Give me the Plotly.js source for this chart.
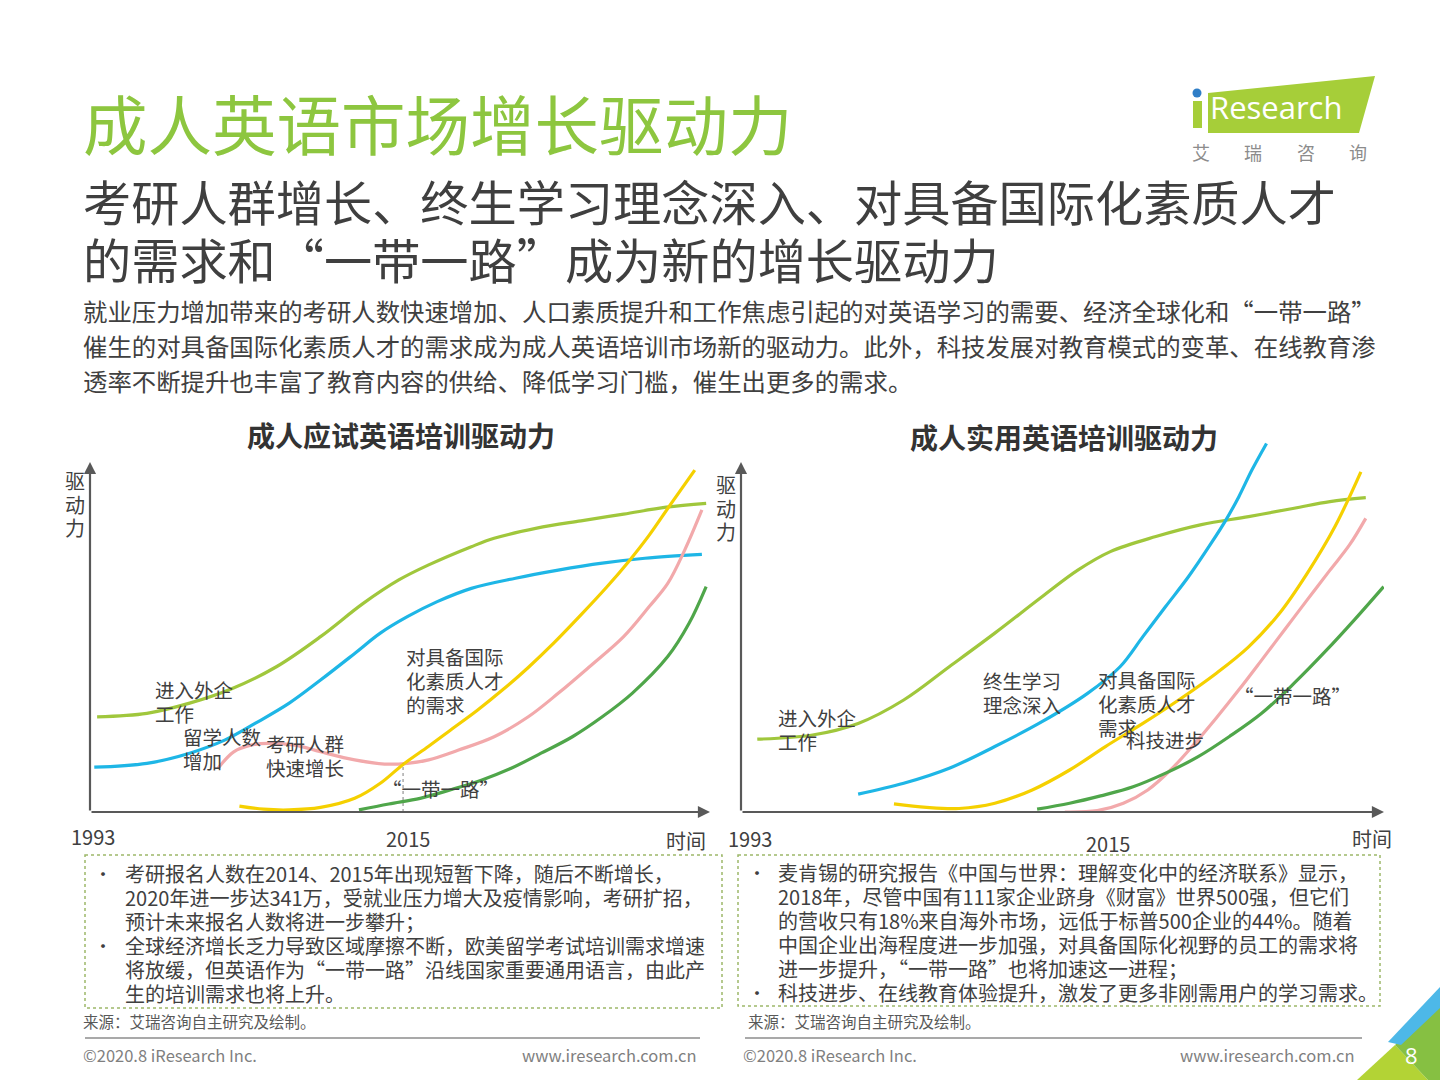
<!DOCTYPE html>
<html><head><meta charset="utf-8">
<script src="https://cdn.plot.ly/plotly-3.0.1.min.js"></script>
<style>html,body{margin:0;padding:0;background:#fff;}#chart{width:1440px;height:1080px;}</style>
</head><body><div id="chart"></div>
<script>
// ---------------- DATA ----------------
const pageTitle = '成人英语市场增长驱动力';
const subtitleLines = ['考研人群增长、终生学习理念深入、对具备国际化素质人才', '的需求和“一带一路”成为新的增长驱动力'];
const introLines = [
  '就业压力增加带来的考研人数快速增加、人口素质提升和工作焦虑引起的对英语学习的需要、经济全球化和“一带一路”',
  '催生的对具备国际化素质人才的需求成为成人英语培训市场新的驱动力。此外，科技发展对教育模式的变革、在线教育渗',
  '透率不断提升也丰富了教育内容的供给、降低学习门槛，催生出更多的需求。'
];
const chartTitles = ['成人应试英语培训驱动力', '成人实用英语培训驱动力'];
const tickYears = [1993, 2015];
const xAxisName = '时间';
const yAxisName = ['驱', '动', '力'];

// Left chart (exam-oriented English training)
const L_foreignX = [1993.5,1997,2000,2003,2006.1,2009.2,2012.2,2014.7,2016.8,2019.8,2021.4,2024.4,2027.5,2030.5,2033.5,2036.3];
const L_foreignY = [27.2,28.2,31.1,35.3,41.5,50.1,59.6,66.3,70.6,75.8,78.2,81.1,83.2,85.1,87.1,88.2];
const L_abroadX = [1993.3,1997,2000,2002.5,2004.6,2007,2009.2,2011.6,2013.4,2015.3,2017.4,2019.8,2022.9,2025.9,2029,2032,2036];
const L_abroadY = [12.8,13.9,16.8,20.6,25.3,31.1,37.7,45.3,51.1,55.8,60.1,63.9,66.8,69.1,71.1,72.5,73.6];
const L_postgradX = [2002,2003.1,2004.3,2005.5,2007.4,2009.2,2011.6,2013.7,2015.3,2016.8,2018.9,2021.4,2023.8,2025.9,2028.1,2030.5,2032.3,2033.6,2034.8,2036];
const L_postgradY = [12.5,17.2,19.1,19.6,19.1,17.2,14.9,13.7,13.9,14.9,17.7,21.5,27.2,33.9,41.5,50.1,58.7,65.3,74.9,86.3];
const L_talentX = [2003.5,2005.2,2007,2009.2,2011.6,2013.4,2015,2016.8,2018.3,2020.2,2022,2023.8,2025.6,2027.5,2029.3,2030.8,2032.3,2033.7,2035.5];
const L_talentY = [1.7,0.8,0.6,1.3,3.9,8.2,13.6,18.8,23.3,29.0,34.9,41.3,48.3,56.3,64.2,71.3,79.1,87.3,97.7];
const L_beltX = [2011.9,2014,2016.2,2018.3,2020.5,2022.6,2024.7,2026.9,2029,2031.1,2033.6,2035.1,2036.3];
const L_beltY = [0.6,2.3,3.9,6.3,9.1,12.5,16.8,21.5,27.2,33.9,44.4,53.9,64.4];
const L_guideX = [2015, 2015];
const L_guideY = [0, 13.8];

// Right chart (practical English training)
const R_foreignX = [1994,1997.4,2000.2,2003,2005.8,2008.6,2011.5,2013.7,2015.7,2018.5,2021.3,2024.2,2027,2029.2,2031.4];
const R_foreignY = [20.8,22,25.3,32,41.5,51.1,61.5,69.1,74.4,78.7,82.1,84.4,86.8,88.7,89.8];
const R_lifelongX = [2000.2,2003,2005.8,2008.6,2011.5,2014.3,2016.3,2017.7,2019.1,2020.5,2021.9,2022.8,2023.6,2024.4,2025.3];
const R_lifelongY = [5.1,8.2,12.5,18.7,25.8,33.9,41.5,50.1,58.7,67.2,76.8,83.4,90.1,97.7,105.3];
const R_talentX = [2002.4,2004.4,2006.4,2008.6,2010.9,2013.2,2015.4,2017.7,2019.9,2022.2,2024.2,2026.1,2027.8,2029.5,2031.1];
const R_talentY = [2.3,1.3,1.0,2.5,6.3,12,18.7,25.3,32,39.6,47.2,56.8,68.2,81.5,97.2];
const R_techX = [2012.9,2014.9,2016.5,2018,2019.4,2020.8,2022.2,2023.6,2025,2026.4,2027.8,2029.2,2030.4,2031.4];
const R_techY = [0,0.4,2.5,6.3,12,19.1,26.8,34.9,43.4,52,60.6,69.1,76.3,83.9];
const R_beltX = [2011.2,2013.2,2015.1,2017.1,2019.1,2021.1,2023,2025,2027,2029,2030.7,2032.5];
const R_beltY = [0.8,2.5,4.6,7.2,11.1,15.8,21.5,28.2,36.8,46.3,54.9,64.4];

const L_labels = [['进入外企','工作'], ['留学人数','增加'], ['考研人群','快速增长'], ['对具备国际','化素质人才','的需求'], ['“一带一路”']];
const R_labels = [['进入外企','工作'], ['终生学习','理念深入'], ['对具备国际','化素质人才','需求'], ['科技进步'], ['“一带一路”']];

const L_notes = [
  '考研报名人数在2014、2015年出现短暂下降，随后不断增长，',
  '2020年进一步达341万，受就业压力增大及疫情影响，考研扩招，',
  '预计未来报名人数将进一步攀升；',
  '全球经济增长乏力导致区域摩擦不断，欧美留学考试培训需求增速',
  '将放缓，但英语作为“一带一路”沿线国家重要通用语言，由此产',
  '生的培训需求也将上升。'
];
const L_bulletRows = [0, 3];
const R_notes = [
  '麦肯锡的研究报告《中国与世界：理解变化中的经济联系》显示，',
  '2018年，尽管中国有111家企业跻身《财富》世界500强，但它们',
  '的营收只有18%来自海外市场，远低于标普500企业的44%。随着',
  '中国企业出海程度进一步加强，对具备国际化视野的员工的需求将',
  '进一步提升，“一带一路”也将加速这一进程；',
  '科技进步、在线教育体验提升，激发了更多非刚需用户的学习需求。'
];
const R_bulletRows = [0, 5];
const sourceText = '来源：艾瑞咨询自主研究及绘制。';
const copyrightText = '©2020.8 iResearch Inc.';
const siteText = 'www.iresearch.com.cn';
const pageNo = '8';

// ---------------- STYLE ----------------
const W = 1440, H = 1080;
const CJK = '"Noto Sans CJK SC", "Noto Sans", sans-serif';
const TXT = '#404040';
const C = {lime:'#A0C73C', cyan:'#1EB6E6', yellow:'#F5D000', pink:'#F2A9AB', green:'#4FA64A'};
const LW = 3.2;

function px(x){return x / W;}
function py(y){return 1 - y / H;}
function note(s, x, y, size, color, anchor, extra){
  anchor = anchor || 'left';
  const dx = anchor === 'left' ? -3 : (anchor === 'right' ? 3 : 0);
  return Object.assign({xref:'paper', yref:'paper', x:px(x + dx), y:py(y), text:s, showarrow:false, borderpad:0,
    xanchor:anchor, yanchor:'middle', align:(anchor==='right'?'right':anchor), font:{family:CJK, size:size, color:color||TXT}}, extra||{});
}
const ann = [];
const spacingFixes = [];
// multi-line text as ONE annotation; line spacing is set after drawing
function block(lines, x, yFirst, step, size, color, anchor){
  const n = lines.length;
  if (n > 1) spacingFixes.push({idx: ann.length, step: step, size: size});
  ann.push(note(lines.join('<br>'), x, yFirst + (n - 1) * 1.3 * size / 2, size, color, anchor));
}
function path(pts){return 'M' + pts.map(p=>px(p[0])+','+py(p[1])).join(' L') + ' Z';}

function line(x, y, color, ax, ay){
  return {x:x, y:y, xaxis:ax, yaxis:ay, type:'scatter', mode:'lines', hoverinfo:'skip',
    line:{shape:'spline', smoothing:1, color:color, width:LW}};
}

const traces = [
  line(L_foreignX, L_foreignY, C.lime, 'x', 'y'),
  line(L_abroadX, L_abroadY, C.cyan, 'x', 'y'),
  line(L_postgradX, L_postgradY, C.pink, 'x', 'y'),
  line(L_talentX, L_talentY, C.yellow, 'x', 'y'),
  line(L_beltX, L_beltY, C.green, 'x', 'y'),
  {x:L_guideX, y:L_guideY, xaxis:'x', yaxis:'y', type:'scatter', mode:'lines', hoverinfo:'skip',
    line:{color:'#7F7F7F', width:1, dash:'3px,3px'}},
  line(R_foreignX, R_foreignY, C.lime, 'x2', 'y2'),
  line(R_lifelongX, R_lifelongY, C.cyan, 'x2', 'y2'),
  line(R_talentX, R_talentY, C.yellow, 'x2', 'y2'),
  line(R_techX, R_techY, C.pink, 'x2', 'y2'),
  line(R_beltX, R_beltY, C.green, 'x2', 'y2')
];

const yDom = [py(812), py(427)];
const LX = [1993, 1993 + 620/14.23];
const RX = [1993, 1993 + 643/16.27];
const axisOff = {visible:false, showgrid:false, zeroline:false, fixedrange:true};

// page titles
ann.push(note(pageTitle, 85, 122, 64.5, '#8DC63F'));
block(subtitleLines, 85, 200, 58, 48.2, '#3F3F3F');
block(introLines, 85, 310, 35, 24.4, TXT);
ann.push(note('<b>'+chartTitles[0]+'</b>', 401, 435, 28, '#333333', 'center'));
ann.push(note('<b>'+chartTitles[1]+'</b>', 1064, 437, 28, '#333333', 'center'));

// axis arrows
function arrow(xr, yr, x, y, ax, ay){
  return {xref:xr, yref:yr, axref:xr, ayref:yr, x:x, y:y, ax:ax, ay:ay, text:'', showarrow:true,
    arrowhead:2, arrowsize:1.1, arrowwidth:2.2, arrowcolor:'#595959', standoff:0, startstandoff:0};
}
ann.push(arrow('x','y', LX[1], 0, 1993, 0));
ann.push(arrow('x','y', 1993, 100, 1993, 0));
ann.push(arrow('x2','y2', RX[1], 0, 1993, 0));
ann.push(arrow('x2','y2', 1993, 100, 1993, 0));

// axis names and tick labels
block(yAxisName, 75, 480, 23.5, 20, TXT, 'center');
block(yAxisName, 726, 485, 23.5, 20, TXT, 'center');
tickYears.forEach((t,i)=>{
  ann.push({xref:'x', yref:'paper', x:t, y:py(i===0?836:838), xshift:(i===0?3:5), text:String(t), showarrow:false,
    xanchor:'center', yanchor:'middle', font:{family:CJK, size:20, color:TXT}});
  ann.push({xref:'x2', yref:'paper', x:t, y:py(i===0?838:843), xshift:9, text:String(t), showarrow:false,
    xanchor:'center', yanchor:'middle', font:{family:CJK, size:20, color:TXT}});
});
ann.push(note(xAxisName, 686, 840, 20, TXT, 'center'));
ann.push(note(xAxisName, 1372, 838, 20, TXT, 'center'));

// chart labels
block(L_labels[0], 157, 689, 23.5, 19.5);
block(L_labels[1], 185, 736, 23.5, 19.5);
block(L_labels[2], 268, 743, 23.5, 19.5);
block(L_labels[3], 408, 657, 24, 19.5);
ann.push(note(L_labels[4][0], 440, 788, 19.5, TXT, 'center'));
block(R_labels[0], 780, 717, 23.5, 19.5);
block(R_labels[1], 985, 680, 23.5, 19.5);
block(R_labels[2], 1100, 680, 24, 19.5);
ann.push(note(R_labels[3][0], 1128, 739, 19.5));
ann.push(note(R_labels[4][0], 1292, 695, 19.5, TXT, 'center'));

// notes boxes
block(L_notes, 127, 873, 24, 20, TXT);
L_bulletRows.forEach(r=>ann.push(note('•', 103, 873 + r*24, 18, TXT, 'center')));
block(R_notes, 780, 872, 24, 20, TXT);
R_bulletRows.forEach(r=>ann.push(note('•', 757, 872 + r*24, 18, TXT, 'center')));

// source & footer
ann.push(note(sourceText, 85, 1021, 15.5, '#595959'));
ann.push(note(sourceText, 750, 1021, 15.5, '#595959'));
ann.push(note(copyrightText, 85, 1055, 16.5, '#7F7F7F'));
ann.push(note(siteText, 695, 1055, 16.5, '#7F7F7F', 'right'));
ann.push(note(copyrightText, 745, 1055, 16.5, '#7F7F7F'));
ann.push(note(siteText, 1353, 1055, 16.5, '#7F7F7F', 'right'));
ann.push(note(pageNo, 1411, 1055, 22, '#FFFFFF', 'center', {font:{family:'"Open Sans", sans-serif', size:22, color:'#FFFFFF'}}));

// logo texts
ann.push(note('Research', 1212, 107, 31, '#FFFFFF', 'left', {font:{family:'"Open Sans", sans-serif', size:31, color:'#FFFFFF'}}));
['艾','瑞','咨','询'].forEach((c,i)=>ann.push(note(c, 1201 + i*52.3, 152, 18, '#8C8C8C', 'center')));

const shapes = [
  {type:'rect', xref:'paper', yref:'paper', x0:px(85), x1:px(722), y0:py(855), y1:py(1008),
    line:{color:'#9DB86A', width:1.5, dash:'dot'}},
  {type:'rect', xref:'paper', yref:'paper', x0:px(738), x1:px(1380), y0:py(855), y1:py(1006),
    line:{color:'#9DB86A', width:1.5, dash:'dot'}},
  {type:'line', xref:'paper', yref:'paper', x0:px(85), x1:px(700), y0:py(1038), y1:py(1038), line:{color:'#8C8C8C', width:1.5}},
  {type:'line', xref:'paper', yref:'paper', x0:px(745), x1:px(1362), y0:py(1038), y1:py(1038), line:{color:'#8C8C8C', width:1.5}},
  // corner decoration
  {type:'path', xref:'paper', yref:'paper', path:path([[1357,1080],[1395,1045],[1428,1080]]), fillcolor:'#B3D335', line:{width:0}},
  {type:'path', xref:'paper', yref:'paper', path:path([[1395,1045],[1440,1005],[1440,1080],[1428,1080]]), fillcolor:'#86C042', line:{width:0}},
  {type:'path', xref:'paper', yref:'paper', path:path([[1388,1042],[1440,987],[1440,1008],[1401,1045]]), fillcolor:'#4DB8E8', line:{width:0}},
  // logo
  {type:'path', xref:'paper', yref:'paper', path:path([[1208,93],[1375,76],[1359,133],[1208,133]]), fillcolor:'#A6CE39', line:{width:0}},
  {type:'rect', xref:'paper', yref:'paper', x0:px(1193), x1:px(1202), y0:py(101), y1:py(128), fillcolor:'#A6CE39', line:{width:0}},
  {type:'circle', xref:'paper', yref:'paper', x0:px(1192.5), x1:px(1201.5), y0:py(88.5), y1:py(97.5), fillcolor:'#2F7EC7', line:{width:0}}
];

const layout = {
  width:W, height:H, margin:{l:0, r:0, t:0, b:0},
  paper_bgcolor:'#FFFFFF', plot_bgcolor:'rgba(0,0,0,0)',
  showlegend:false, hovermode:false,
  xaxis:Object.assign({domain:[px(90), px(710)], range:LX, anchor:'y'}, axisOff),
  yaxis:Object.assign({domain:yDom, range:[0,110], anchor:'x'}, axisOff),
  xaxis2:Object.assign({domain:[px(741), px(1384)], range:RX, anchor:'y2'}, axisOff),
  yaxis2:Object.assign({domain:yDom, range:[0,110], anchor:'x2'}, axisOff),
  annotations:ann, shapes:shapes
};

function fixSpacing(gd){
  spacingFixes.forEach(f=>{
    const g = gd.querySelector('.annotation[data-index="' + f.idx + '"]');
    if (!g) return;
    const spans = g.querySelectorAll('text.annotation-text tspan.line');
    spans.forEach((t, i)=>{
      const absolute = t.hasAttribute('y');
      const em = (absolute ? i * f.step : (i === 0 ? 0 : f.step)) / f.size;
      t.setAttribute('dy', em + 'em');
    });
  });
}
Plotly.newPlot('chart', traces, layout, {staticPlot:true, displayModeBar:false}).then(fixSpacing);
</script></body></html>
